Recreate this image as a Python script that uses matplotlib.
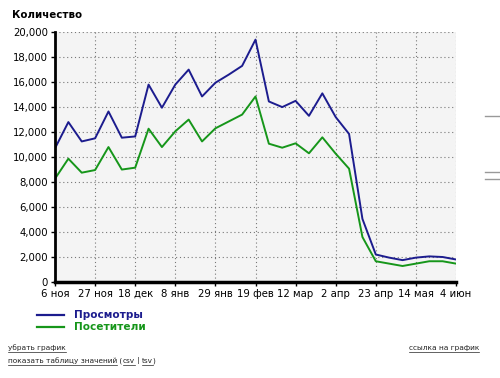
import numpy as np
import matplotlib
matplotlib.use('Agg')
import matplotlib.pyplot as plt
from matplotlib.lines import Line2D

# weekly values, 6 Nov .. 4 Jun
views = [10700, 12800, 11250, 11500, 13650, 11550, 11650, 15800, 13950, 15800,
         17000, 14850, 15950, 16600, 17300, 19400, 14450, 14000, 14500, 13300,
         15100, 13200, 11850, 5050, 2200, 1950, 1750, 1950, 2050, 2000, 1800]
visitors = [8270, 9870, 8750, 8960, 10800, 9000, 9150, 12270, 10800, 12060,
            13000, 11250, 12300, 12850, 13400, 14850, 11070, 10750, 11100, 10300,
            11580, 10270, 9070, 3600, 1660, 1470, 1280, 1470, 1660, 1660, 1470]
tick_labels = ["6 ноя", "27 ноя", "18 дек", "8 янв", "29 янв", "19 фев",
               "12 мар", "2 апр", "23 апр", "14 мая", "4 июн"]
series_names = ["Просмотры", "Посетители"]

blue = '#1c1c8e'
green = '#16961a'

plt.rcParams['font.family'] = ['DejaVu Sans']

fig = plt.figure(figsize=(5, 3.78), dpi=100)
fig.patch.set_facecolor('white')
ax = fig.add_axes([0.11, 0.254, 0.802, 0.661])
ax.set_facecolor('#f4f4f4')

weeks = np.arange(len(views))
ax.plot(weeks, views, color=blue, lw=1.4)
ax.plot(weeks, visitors, color=green, lw=1.4)

ax.set_xlim(0, len(views) - 1)
ax.set_ylim(0, 20000)
ax.set_xticks(np.arange(0, len(views), 3))
ax.set_xticklabels(tick_labels, fontsize=7.3)
ax.set_yticks(np.arange(0, 20001, 2000))
ax.set_yticklabels(['{:,}'.format(v) for v in range(0, 20001, 2000)], fontsize=7.3)
ax.grid(True, color='#777777', linestyle=(0, (1, 2.5)), lw=0.8)
ax.tick_params(direction='out', length=3, width=1, pad=2)

for s in ['top', 'right']:
    ax.spines[s].set_visible(False)
ax.spines['left'].set_linewidth(2)
ax.spines['bottom'].set_linewidth(2.5)

fig.text(0.024, 0.96, "Количество", fontsize=7.4, fontweight='bold', va='center')

# legend
for i, (name, c) in enumerate(zip(series_names, [blue, green])):
    y = 1 - (315 + i * 12) / 378
    fig.add_artist(Line2D([37 / 500, 64 / 500], [y, y], color=c, lw=1.6))
    fig.text(74 / 500, y, name, color=c, fontsize=7.6, fontweight='bold', va='center')

# links (underlined pieces)
renderer = fig.canvas.get_renderer()
link_kw = dict(fontsize=5.3, color='#222222', va='center')


def put(x, ypix, s, underline=True, ha='left'):
    t = fig.text(x, 1 - ypix / 378, s, ha=ha, **link_kw)
    bb = t.get_window_extent(renderer).transformed(fig.transFigure.inverted())
    if underline:
        fig.add_artist(Line2D([bb.x0, bb.x1], [1 - (ypix + 4) / 378] * 2,
                              color='#222222', lw=0.5))
    return bb.x1


put(8 / 500, 348, "убрать график")
put(479 / 500, 348, "ссылка на график", ha='right')
x = put(8 / 500, 361, "показать таблицу значений")
x = put(x, 361, " (", underline=False)
x = put(x, 361, "csv")
x = put(x, 361, " | ", underline=False)
x = put(x, 361, "tsv")
put(x, 361, ")", underline=False)

# small marks on the right edge
for yy in [116, 172, 179]:
    fig.add_artist(Line2D([485 / 500, 1.0], [1 - yy / 378] * 2, color='#999999', lw=1))

fig.savefig('out.png', dpi=100)
